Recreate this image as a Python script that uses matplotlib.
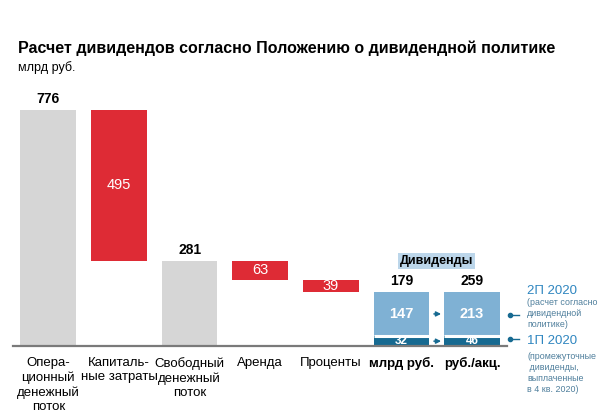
import matplotlib.pyplot as plt

plt.rcParams['font.family'] = ['Liberation Sans', 'DejaVu Sans']

# waterfall data, bln rub
flow_labels = ['Опера-\nционный\nденежный\nпоток', 'Капиталь-\nные затраты',
               'Свободный\nденежный\nпоток', 'Аренда', 'Проценты']
flow_values = [776, -495, 281, -63, -39]
flow_is_total = [True, False, True, False, False]

# dividends
div_labels = ['млрд руб.', 'руб./акц.']
div_interim = [32, 46]      # 1П 2020
div_final = [147, 213]      # 2П 2020
div_totals = [179, 259]

GRAY = '#d6d6d6'
RED = '#de2b35'
LIGHT = '#7fb1d4'
DARK = '#176a91'
TEXTBLUE = '#2f86c0'
NOTE = '#4f7f9c'

fig = plt.figure(figsize=(6, 4.15), dpi=100)
ax = fig.add_axes([0.0217, 0.1663, 0.824, 0.6595])
ax.set_xlim(-0.5, 6.5)
ax.set_ylim(0, 900)
w = 0.79

# waterfall bars
level = 0
for i, (v, tot) in enumerate(zip(flow_values, flow_is_total)):
    if tot:
        ax.bar(i, v, width=w, color=GRAY)
        ax.text(i, v + 12, str(v), ha='center', va='bottom', fontsize=10, fontweight='bold')
        level = v
    else:
        bottom = level + v
        ax.bar(i, -v, bottom=bottom, width=w, color=RED)
        ax.text(i, bottom - v / 2, str(-v), ha='center', va='center', fontsize=10.5, color='white')
        level = bottom

# dividend bars: per-share bar drawn at the same height as bln bar
for j in range(2):
    x = 5 + j
    k = div_totals[0] / div_totals[j]
    lo = div_interim[j] * k
    hi = div_final[j] * k
    ax.bar(x, lo, width=w, color=DARK)
    ax.bar(x, hi, bottom=lo, width=w, color=LIGHT)
    ax.hlines(lo, x - w / 2, x + w / 2, color='white', lw=2.2)
    ax.text(x, lo / 2 - 1, str(div_interim[j]), ha='center', va='center', fontsize=8.5,
            fontweight='bold', color='white')
    ax.text(x, lo + hi / 2, str(div_final[j]), ha='center', va='center', fontsize=10.5,
            fontweight='bold', color='white')
    ax.text(x, lo + hi + 12, str(div_totals[j]), ha='center', va='bottom', fontsize=10,
            fontweight='bold')

# arrows between dividend bars
k = div_totals[0] / div_totals[1]
for y in [div_interim[1] * k / 2, div_interim[1] * k + div_final[1] * k / 2]:
    ax.annotate('', xy=(5.5 + 0.1, y), xytext=(5.5 - 0.08, y),
                arrowprops=dict(arrowstyle='-|>', color=DARK, lw=1.1, mutation_scale=7))

ax.text(5.5, 280, 'Дивиденды', ha='center', va='center', fontsize=9, fontweight='bold',
        bbox=dict(boxstyle='square,pad=0.15', fc='#bcd6ea', ec='none'))

# axis styling
for s in ['top', 'right', 'left']:
    ax.spines[s].set_visible(False)
ax.spines['bottom'].set_color('#7a7a7a')
ax.spines['bottom'].set_linewidth(1.6)
ax.set_yticks([])
ax.set_xticks(range(7))
ax.set_xticklabels(flow_labels + div_labels, fontsize=9.5, linespacing=1.25, va='top')
ax.tick_params(axis='x', length=0, pad=8)
for t in ax.get_xticklabels()[5:]:
    t.set_fontweight('bold')

# right-hand notes
for y in [101, 24]:
    ax.plot([6.53, 6.66], [y, y], color=DARK, lw=1, clip_on=False)
    ax.plot([6.53], [y], 'o', color=DARK, ms=3, clip_on=False)

fig.text(527 / 600, 1 - 291 / 415, '2П 2020', fontsize=9.5, color=TEXTBLUE, va='center')
fig.text(527 / 600, 1 - 298 / 415, '(расчет согласно\nдивидендной\nполитике)', fontsize=6.4,
         color=NOTE, va='top', linespacing=1.3)
fig.text(527 / 600, 1 - 341 / 415, '1П 2020', fontsize=9.5, color=TEXTBLUE, va='center')
fig.text(527 / 600, 1 - 352 / 415, '(промежуточные\n дивиденды,\nвыплаченные\nв 4 кв. 2020)',
         fontsize=6.4, color=NOTE, va='top', linespacing=1.3)

# title
fig.text(18 / 600, 1 - 48 / 415, 'Расчет дивидендов согласно Положению о дивидендной политике',
         fontsize=11.5, fontweight='bold', va='center')
fig.text(18 / 600, 1 - 68 / 415, 'млрд руб.', fontsize=9, va='center')

fig.savefig('out.png', dpi=100)
